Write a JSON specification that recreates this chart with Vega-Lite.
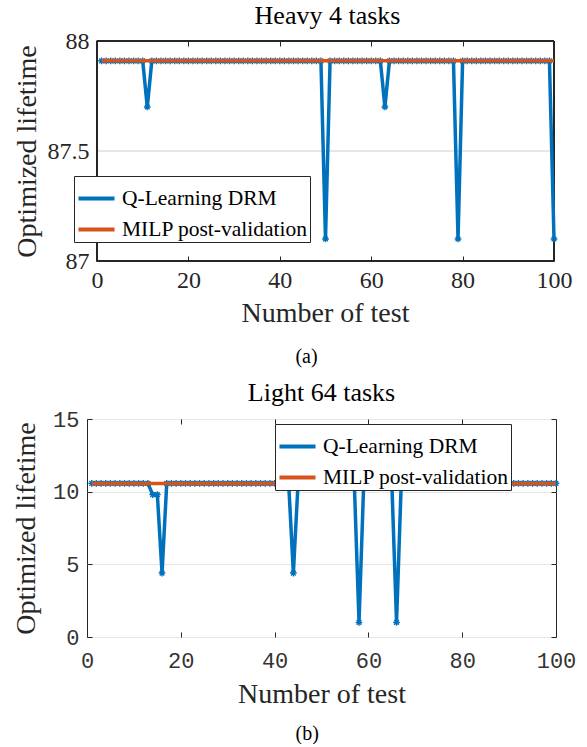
{
  "$schema": "https://vega.github.io/schema/vega-lite/v6.json",
  "background": "white",
  "padding": {"left": 12, "top": 3, "right": 8, "bottom": 0},
  "config": {
    "view": {"stroke": "#262626", "strokeWidth": 1},
    "font": "Liberation Serif",
    "title": {"font": "Liberation Serif", "fontWeight": "normal", "color": "#000000"}
  },
  "datasets": {
    "heavy": [
      {"t":1,"q":87.91,"m":87.91},{"t":2,"q":87.91,"m":87.91},{"t":3,"q":87.91,"m":87.91},{"t":4,"q":87.91,"m":87.91},{"t":5,"q":87.91,"m":87.91},
      {"t":6,"q":87.91,"m":87.91},{"t":7,"q":87.91,"m":87.91},{"t":8,"q":87.91,"m":87.91},{"t":9,"q":87.91,"m":87.91},{"t":10,"q":87.91,"m":87.91},
      {"t":11,"q":87.7,"m":87.91},{"t":12,"q":87.91,"m":87.91},{"t":13,"q":87.91,"m":87.91},{"t":14,"q":87.91,"m":87.91},{"t":15,"q":87.91,"m":87.91},
      {"t":16,"q":87.91,"m":87.91},{"t":17,"q":87.91,"m":87.91},{"t":18,"q":87.91,"m":87.91},{"t":19,"q":87.91,"m":87.91},{"t":20,"q":87.91,"m":87.91},
      {"t":21,"q":87.91,"m":87.91},{"t":22,"q":87.91,"m":87.91},{"t":23,"q":87.91,"m":87.91},{"t":24,"q":87.91,"m":87.91},{"t":25,"q":87.91,"m":87.91},
      {"t":26,"q":87.91,"m":87.91},{"t":27,"q":87.91,"m":87.91},{"t":28,"q":87.91,"m":87.91},{"t":29,"q":87.91,"m":87.91},{"t":30,"q":87.91,"m":87.91},
      {"t":31,"q":87.91,"m":87.91},{"t":32,"q":87.91,"m":87.91},{"t":33,"q":87.91,"m":87.91},{"t":34,"q":87.91,"m":87.91},{"t":35,"q":87.91,"m":87.91},
      {"t":36,"q":87.91,"m":87.91},{"t":37,"q":87.91,"m":87.91},{"t":38,"q":87.91,"m":87.91},{"t":39,"q":87.91,"m":87.91},{"t":40,"q":87.91,"m":87.91},
      {"t":41,"q":87.91,"m":87.91},{"t":42,"q":87.91,"m":87.91},{"t":43,"q":87.91,"m":87.91},{"t":44,"q":87.91,"m":87.91},{"t":45,"q":87.91,"m":87.91},
      {"t":46,"q":87.91,"m":87.91},{"t":47,"q":87.91,"m":87.91},{"t":48,"q":87.91,"m":87.91},{"t":49,"q":87.91,"m":87.91},{"t":50,"q":87.1,"m":87.91},
      {"t":51,"q":87.91,"m":87.91},{"t":52,"q":87.91,"m":87.91},{"t":53,"q":87.91,"m":87.91},{"t":54,"q":87.91,"m":87.91},{"t":55,"q":87.91,"m":87.91},
      {"t":56,"q":87.91,"m":87.91},{"t":57,"q":87.91,"m":87.91},{"t":58,"q":87.91,"m":87.91},{"t":59,"q":87.91,"m":87.91},{"t":60,"q":87.91,"m":87.91},
      {"t":61,"q":87.91,"m":87.91},{"t":62,"q":87.91,"m":87.91},{"t":63,"q":87.7,"m":87.91},{"t":64,"q":87.91,"m":87.91},{"t":65,"q":87.91,"m":87.91},
      {"t":66,"q":87.91,"m":87.91},{"t":67,"q":87.91,"m":87.91},{"t":68,"q":87.91,"m":87.91},{"t":69,"q":87.91,"m":87.91},{"t":70,"q":87.91,"m":87.91},
      {"t":71,"q":87.91,"m":87.91},{"t":72,"q":87.91,"m":87.91},{"t":73,"q":87.91,"m":87.91},{"t":74,"q":87.91,"m":87.91},{"t":75,"q":87.91,"m":87.91},
      {"t":76,"q":87.91,"m":87.91},{"t":77,"q":87.91,"m":87.91},{"t":78,"q":87.91,"m":87.91},{"t":79,"q":87.1,"m":87.91},{"t":80,"q":87.91,"m":87.91},
      {"t":81,"q":87.91,"m":87.91},{"t":82,"q":87.91,"m":87.91},{"t":83,"q":87.91,"m":87.91},{"t":84,"q":87.91,"m":87.91},{"t":85,"q":87.91,"m":87.91},
      {"t":86,"q":87.91,"m":87.91},{"t":87,"q":87.91,"m":87.91},{"t":88,"q":87.91,"m":87.91},{"t":89,"q":87.91,"m":87.91},{"t":90,"q":87.91,"m":87.91},
      {"t":91,"q":87.91,"m":87.91},{"t":92,"q":87.91,"m":87.91},{"t":93,"q":87.91,"m":87.91},{"t":94,"q":87.91,"m":87.91},{"t":95,"q":87.91,"m":87.91},
      {"t":96,"q":87.91,"m":87.91},{"t":97,"q":87.91,"m":87.91},{"t":98,"q":87.91,"m":87.91},{"t":99,"q":87.91,"m":87.91},{"t":100,"q":87.1,"m":87.91}
    ],
    "light": [
      {"t":1,"q":10.57,"m":10.57},{"t":2,"q":10.57,"m":10.57},{"t":3,"q":10.57,"m":10.57},{"t":4,"q":10.57,"m":10.57},{"t":5,"q":10.57,"m":10.57},
      {"t":6,"q":10.57,"m":10.57},{"t":7,"q":10.57,"m":10.57},{"t":8,"q":10.57,"m":10.57},{"t":9,"q":10.57,"m":10.57},{"t":10,"q":10.57,"m":10.57},
      {"t":11,"q":10.57,"m":10.57},{"t":12,"q":10.57,"m":10.57},{"t":13,"q":10.57,"m":10.57},{"t":14,"q":9.8,"m":10.57},{"t":15,"q":9.8,"m":10.57},
      {"t":16,"q":4.4,"m":10.57},{"t":17,"q":10.57,"m":10.57},{"t":18,"q":10.57,"m":10.57},{"t":19,"q":10.57,"m":10.57},{"t":20,"q":10.57,"m":10.57},
      {"t":21,"q":10.57,"m":10.57},{"t":22,"q":10.57,"m":10.57},{"t":23,"q":10.57,"m":10.57},{"t":24,"q":10.57,"m":10.57},{"t":25,"q":10.57,"m":10.57},
      {"t":26,"q":10.57,"m":10.57},{"t":27,"q":10.57,"m":10.57},{"t":28,"q":10.57,"m":10.57},{"t":29,"q":10.57,"m":10.57},{"t":30,"q":10.57,"m":10.57},
      {"t":31,"q":10.57,"m":10.57},{"t":32,"q":10.57,"m":10.57},{"t":33,"q":10.57,"m":10.57},{"t":34,"q":10.57,"m":10.57},{"t":35,"q":10.57,"m":10.57},
      {"t":36,"q":10.57,"m":10.57},{"t":37,"q":10.57,"m":10.57},{"t":38,"q":10.57,"m":10.57},{"t":39,"q":10.57,"m":10.57},{"t":40,"q":10.57,"m":10.57},
      {"t":41,"q":10.57,"m":10.57},{"t":42,"q":10.57,"m":10.57},{"t":43,"q":10.57,"m":10.57},{"t":44,"q":4.4,"m":10.57},{"t":45,"q":10.57,"m":10.57},
      {"t":46,"q":10.57,"m":10.57},{"t":47,"q":10.57,"m":10.57},{"t":48,"q":10.57,"m":10.57},{"t":49,"q":10.57,"m":10.57},{"t":50,"q":10.57,"m":10.57},
      {"t":51,"q":10.57,"m":10.57},{"t":52,"q":10.57,"m":10.57},{"t":53,"q":10.57,"m":10.57},{"t":54,"q":10.57,"m":10.57},{"t":55,"q":10.57,"m":10.57},
      {"t":56,"q":10.57,"m":10.57},{"t":57,"q":10.57,"m":10.57},{"t":58,"q":1.0,"m":10.57},{"t":59,"q":10.57,"m":10.57},{"t":60,"q":10.57,"m":10.57},
      {"t":61,"q":10.57,"m":10.57},{"t":62,"q":10.57,"m":10.57},{"t":63,"q":10.57,"m":10.57},{"t":64,"q":10.57,"m":10.57},{"t":65,"q":10.57,"m":10.57},
      {"t":66,"q":1.0,"m":10.57},{"t":67,"q":10.57,"m":10.57},{"t":68,"q":10.57,"m":10.57},{"t":69,"q":10.57,"m":10.57},{"t":70,"q":10.57,"m":10.57},
      {"t":71,"q":10.57,"m":10.57},{"t":72,"q":10.57,"m":10.57},{"t":73,"q":10.57,"m":10.57},{"t":74,"q":10.57,"m":10.57},{"t":75,"q":10.57,"m":10.57},
      {"t":76,"q":10.57,"m":10.57},{"t":77,"q":10.57,"m":10.57},{"t":78,"q":10.57,"m":10.57},{"t":79,"q":10.57,"m":10.57},{"t":80,"q":10.57,"m":10.57},
      {"t":81,"q":10.57,"m":10.57},{"t":82,"q":10.57,"m":10.57},{"t":83,"q":10.57,"m":10.57},{"t":84,"q":10.57,"m":10.57},{"t":85,"q":10.57,"m":10.57},
      {"t":86,"q":10.57,"m":10.57},{"t":87,"q":10.57,"m":10.57},{"t":88,"q":10.57,"m":10.57},{"t":89,"q":10.57,"m":10.57},{"t":90,"q":10.57,"m":10.57},
      {"t":91,"q":10.57,"m":10.57},{"t":92,"q":10.57,"m":10.57},{"t":93,"q":10.57,"m":10.57},{"t":94,"q":10.57,"m":10.57},{"t":95,"q":10.57,"m":10.57},
      {"t":96,"q":10.57,"m":10.57},{"t":97,"q":10.57,"m":10.57},{"t":98,"q":10.57,"m":10.57},{"t":99,"q":10.57,"m":10.57},{"t":100,"q":10.57,"m":10.57}
    ]
  },
  "columns": 1,
  "align": "none",
  "spacing": 12,
  "resolve": {"scale": {"color": "independent"}, "legend": {"color": "independent"}},
  "concat": [
    {
      "title": {"text": "(a)", "orient": "bottom", "fontSize": 20, "offset": 20, "anchor": "middle", "dx": 14},
      "vconcat": [
        {
          "title": {"text": "Heavy 4 tasks", "fontSize": 26, "offset": 0, "dx": 7},
          "width": 467,
          "height": 220,
          "view": {"stroke": null},
          "data": {"name": "heavy"},
          "resolve": {"axis": {"x": "independent", "y": "independent"}},
          "layer": [
            {
              "description": "grid line at 87.5, spanning the axis box only",
              "mark": {"type": "rule", "color": "#e6e6e6", "strokeWidth": 1},
              "encoding": {
                "x": {"datum": 0, "type": "quantitative", "axis": null, "scale": {"domain": [-2.188, 100], "nice": false, "zero": false}},
                "x2": {"datum": 100},
                "y": {"datum": 87.5, "type": "quantitative", "axis": null, "scale": {"domain": [87, 88], "nice": false, "zero": false}}
              }
            },
            {
              "description": "box around the axes, from test 0 to 100",
              "mark": {"type": "rule", "color": "#262626", "strokeWidth": 1},
              "encoding": {
                "x": {"datum": 0, "type": "quantitative", "axis": null},
                "x2": {"datum": 100},
                "y": {"datum": 88, "type": "quantitative", "axis": null}
              }
            },
            {
              "mark": {"type": "rule", "color": "#262626", "strokeWidth": 1},
              "encoding": {
                "x": {"datum": 0, "type": "quantitative", "axis": null},
                "x2": {"datum": 100},
                "y": {"datum": 87, "type": "quantitative", "axis": null}
              }
            },
            {
              "mark": {"type": "rule", "color": "#262626", "strokeWidth": 1},
              "encoding": {
                "x": {"datum": 0, "type": "quantitative", "axis": null}
              }
            },
            {
              "mark": {"type": "rule", "color": "#262626", "strokeWidth": 1},
              "encoding": {
                "x": {"datum": 100, "type": "quantitative", "axis": null}
              }
            },
            {
              "mark": {"type": "line", "strokeWidth": 3.5},
              "encoding": {
                "x": {"field": "t", "type": "quantitative", "scale": {"domain": [-2.188, 100], "nice": false, "zero": false},
                  "axis": {"orient": "bottom", "values": [0, 20, 40, 60, 80, 100], "title": "Number of test", "titleX": 238, "grid": false, "domain": false, "labelFlush": false,
                    "tickSize": -5, "tickColor": "#262626", "labelFont": "Liberation Serif", "labelFontSize": 24, "labelColor": "#262626", "labelPadding": 12,
                    "titleFont": "Liberation Serif", "titleFontSize": 28, "titleFontWeight": "normal", "titleColor": "#262626", "titlePadding": 7}},
                "y": {"field": "q", "type": "quantitative", "scale": {"domain": [87, 88], "nice": false, "zero": false},
                  "axis": {"orient": "left", "offset": -10, "values": [87, 87.5, 88], "format": "~g", "title": "Optimized lifetime", "grid": false, "domain": false,
                    "tickSize": -5, "tickColor": "#262626", "labelFont": "Liberation Serif", "labelFontSize": 24, "labelColor": "#262626", "labelPadding": 13,
                    "titleFont": "Liberation Serif", "titleFontSize": 28, "titleFontWeight": "normal", "titleColor": "#262626", "titlePadding": 6}},
                "color": {"datum": "Q-Learning DRM", "type": "nominal",
                  "scale": {"domain": ["Q-Learning DRM", "MILP post-validation"], "range": ["#0072BD", "#D95319"]},
                  "legend": {"title": null, "orient": "none", "legendX": -13, "legendY": 135, "symbolType": "stroke", "symbolStrokeWidth": 4, "symbolSize": 1300,
                    "labelFont": "Liberation Serif", "labelFontSize": 21.5, "labelColor": "#000000", "labelOffset": 5, "labelLimit": 0, "rowPadding": -12,
                    "fillColor": "white", "strokeColor": "#262626", "padding": 2}}
              }
            },
            {
              "mark": {"type": "point", "shape": "M-1,0L1,0M0,-1L0,1M-0.7,-0.7L0.7,0.7M-0.7,0.7L0.7,-0.7", "filled": false, "strokeWidth": 1.4, "size": 45, "opacity": 1},
              "encoding": {
                "x": {"field": "t", "type": "quantitative", "axis": null},
                "y": {"field": "q", "type": "quantitative", "axis": null},
                "color": {"datum": "Q-Learning DRM", "type": "nominal"}
              }
            },
            {
              "mark": {"type": "line", "strokeWidth": 3.5},
              "encoding": {
                "x": {"field": "t", "type": "quantitative",
                  "axis": {"orient": "top", "values": [0, 20, 40, 60, 80, 100], "labels": false, "title": null, "grid": false, "domain": false, "tickSize": -5, "tickColor": "#262626"}},
                "y": {"field": "m", "type": "quantitative",
                  "axis": {"orient": "right", "values": [87, 87.5, 88], "labels": false, "title": null, "grid": false, "domain": false, "tickSize": -5, "tickColor": "#262626"}},
                "color": {"datum": "MILP post-validation", "type": "nominal"}
              }
            }
          ]
        }
      ]
    },
    {
      "title": {"text": "(b)", "orient": "bottom", "fontSize": 20, "offset": 15, "anchor": "middle", "dx": 13},
      "vconcat": [
        {
          "title": {"text": "Light 64 tasks", "fontSize": 26, "offset": 2, "dx": 0},
          "width": 469,
          "height": 218,
          "data": {"name": "light"},
          "resolve": {"axis": {"x": "independent", "y": "independent"}},
          "layer": [
            {
              "mark": {"type": "line", "strokeWidth": 3.5},
              "encoding": {
                "x": {"field": "t", "type": "quantitative", "scale": {"domain": [0, 100], "nice": false},
                  "axis": {"orient": "bottom", "values": [0, 20, 40, 60, 80, 100], "title": "Number of test", "grid": false, "domain": false, "labelFlush": false,
                    "tickSize": -5, "tickColor": "#262626", "labelFont": "Liberation Mono", "labelFontSize": 22, "labelColor": "#333333", "labelPadding": 18,
                    "titleFont": "Liberation Serif", "titleFontSize": 28, "titleFontWeight": "normal", "titleColor": "#262626", "titlePadding": 9}},
                "y": {"field": "q", "type": "quantitative", "scale": {"domain": [0, 15], "nice": false, "zero": false},
                  "axis": {"orient": "left", "values": [0, 5, 10, 15], "title": "Optimized lifetime", "grid": true, "gridColor": "#e6e6e6", "domain": false,
                    "tickSize": -5, "tickColor": "#262626", "labelFont": "Liberation Mono", "labelFontSize": 22, "labelColor": "#333333", "labelPadding": 13,
                    "titleFont": "Liberation Serif", "titleFontSize": 28, "titleFontWeight": "normal", "titleColor": "#262626", "titlePadding": 12}},
                "color": {"datum": "Q-Learning DRM", "type": "nominal",
                  "scale": {"domain": ["Q-Learning DRM", "MILP post-validation"], "range": ["#0072BD", "#D95319"]},
                  "legend": {"title": null, "orient": "none", "legendX": 188, "legendY": 5, "symbolType": "stroke", "symbolStrokeWidth": 4, "symbolSize": 1300,
                    "labelFont": "Liberation Serif", "labelFontSize": 21.5, "labelColor": "#000000", "labelOffset": 5, "labelLimit": 0, "rowPadding": -12,
                    "fillColor": "white", "strokeColor": "#262626", "padding": 2}}
              }
            },
            {
              "mark": {"type": "point", "shape": "M-1,0L1,0M0,-1L0,1M-0.7,-0.7L0.7,0.7M-0.7,0.7L0.7,-0.7", "filled": false, "strokeWidth": 1.4, "size": 45, "opacity": 1},
              "encoding": {
                "x": {"field": "t", "type": "quantitative", "axis": null},
                "y": {"field": "q", "type": "quantitative", "axis": null},
                "color": {"datum": "Q-Learning DRM", "type": "nominal"}
              }
            },
            {
              "mark": {"type": "line", "strokeWidth": 3.5},
              "encoding": {
                "x": {"field": "t", "type": "quantitative",
                  "axis": {"orient": "top", "values": [0, 20, 40, 60, 80, 100], "labels": false, "title": null, "grid": false, "domain": false, "tickSize": -5, "tickColor": "#262626"}},
                "y": {"field": "m", "type": "quantitative",
                  "axis": {"orient": "right", "values": [0, 5, 10, 15], "labels": false, "title": null, "grid": false, "domain": false, "tickSize": -5, "tickColor": "#262626"}},
                "color": {"datum": "MILP post-validation", "type": "nominal"}
              }
            }
          ]
        }
      ]
    }
  ]
}
